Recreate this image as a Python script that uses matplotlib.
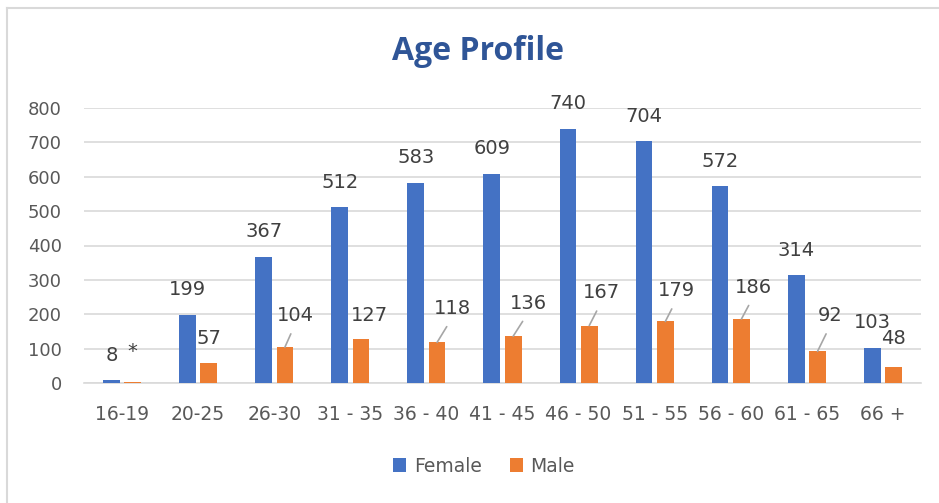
import numpy as np
import matplotlib.pyplot as plt
from matplotlib.lines import Line2D

age_groups = ['16-19', '20-25', '26-30', '31 - 35', '36 - 40', '41 - 45',
              '46 - 50', '51 - 55', '56 - 60', '61 - 65', '66 +']
female = [8, 199, 367, 512, 583, 609, 740, 704, 572, 314, 103]
male = [3, 57, 104, 127, 118, 136, 167, 179, 186, 92, 48]
male_labels = ['*', '57', '104', '127', '118', '136', '167', '179', '186', '92', '48']

# label offsets for male values (pixels from bar top centre), and which get a leader line
male_offsets = [(0, 30), (0, 25), (10, 32), (8, 24), (15, 34), (15, 33),
                (12, 33), (11, 31), (12, 32), (13, 36), (0, 28)]
male_leader = [False, False, True, False, True, True, True, True, True, True, False]

BLUE = '#4472C4'
ORANGE = '#ED7D31'
LABEL = '#404040'
TICK = '#595959'
GRID = '#D9D9D9'
PT = 0.72  # points per pixel at dpi 100

fig = plt.figure(figsize=(9.39, 5.03), dpi=100)
ax = fig.add_axes([84 / 939, 1 - 383 / 503, 837 / 939, 275 / 503])

x = np.arange(len(age_groups))
w = 0.22
off = 0.14
ax.bar(x - off, female, w, color=BLUE, label='Female', zorder=3)
ax.bar(x + off, male, w, color=ORANGE, label='Male', zorder=3)

ax.set_xlim(-0.5, len(age_groups) - 0.5)
ax.set_ylim(0, 800)
ax.set_yticks(range(0, 801, 100))
ax.set_xticks(x)
ax.set_xticklabels(age_groups)
ax.tick_params(length=0, labelsize=13.5, colors=TICK)
ax.tick_params(axis='x', pad=16)
ax.tick_params(axis='y', pad=16)
for lab in ax.get_yticklabels():
    lab.set_fontsize(13)
ax.grid(axis='y', color=GRID, linewidth=1.2, zorder=0)
for s in ['top', 'right', 'left']:
    ax.spines[s].set_visible(False)
ax.spines['bottom'].set_color(GRID)
ax.spines['bottom'].set_linewidth(1.2)

for i, v in enumerate(female):
    ax.annotate(str(v), (x[i] - off, v), xytext=(0, 25 * PT), textcoords='offset points',
                ha='center', va='center', fontsize=14, color=LABEL)

for i, v in enumerate(male):
    dx, dy = male_offsets[i]
    kw = {}
    if male_leader[i]:
        kw['arrowprops'] = dict(arrowstyle='-', color='#A6A6A6', lw=1.2,
                                relpos=(0.5, 0), shrinkA=5, shrinkB=0)
    ax.annotate(male_labels[i], (x[i] + off, v), xytext=(dx * PT, dy * PT),
                textcoords='offset points', ha='center', va='center',
                fontsize=14, color=LABEL, **kw)

fig.text(478 / 939, 1 - 52 / 503, 'Age Profile', ha='center', va='center',
         fontsize=23, fontweight='bold', color='#2F5597', family='Open Sans')

fig.legend(loc='center', bbox_to_anchor=(484 / 939, 1 - 466 / 503), ncol=2,
           frameon=False, fontsize=13.5, handlelength=0.7, handleheight=0.7,
           handletextpad=0.4, columnspacing=1.5, labelcolor=TICK)

# chart border (top and left edges visible)
fig.add_artist(Line2D([7 / 939, 7 / 939], [0, 1 - 8 / 503], transform=fig.transFigure,
                      color='#D9D9D9', lw=1.5))
fig.add_artist(Line2D([7 / 939, 1], [1 - 8 / 503, 1 - 8 / 503], transform=fig.transFigure,
                      color='#D9D9D9', lw=1.5))

fig.savefig('out.png', dpi=100)
